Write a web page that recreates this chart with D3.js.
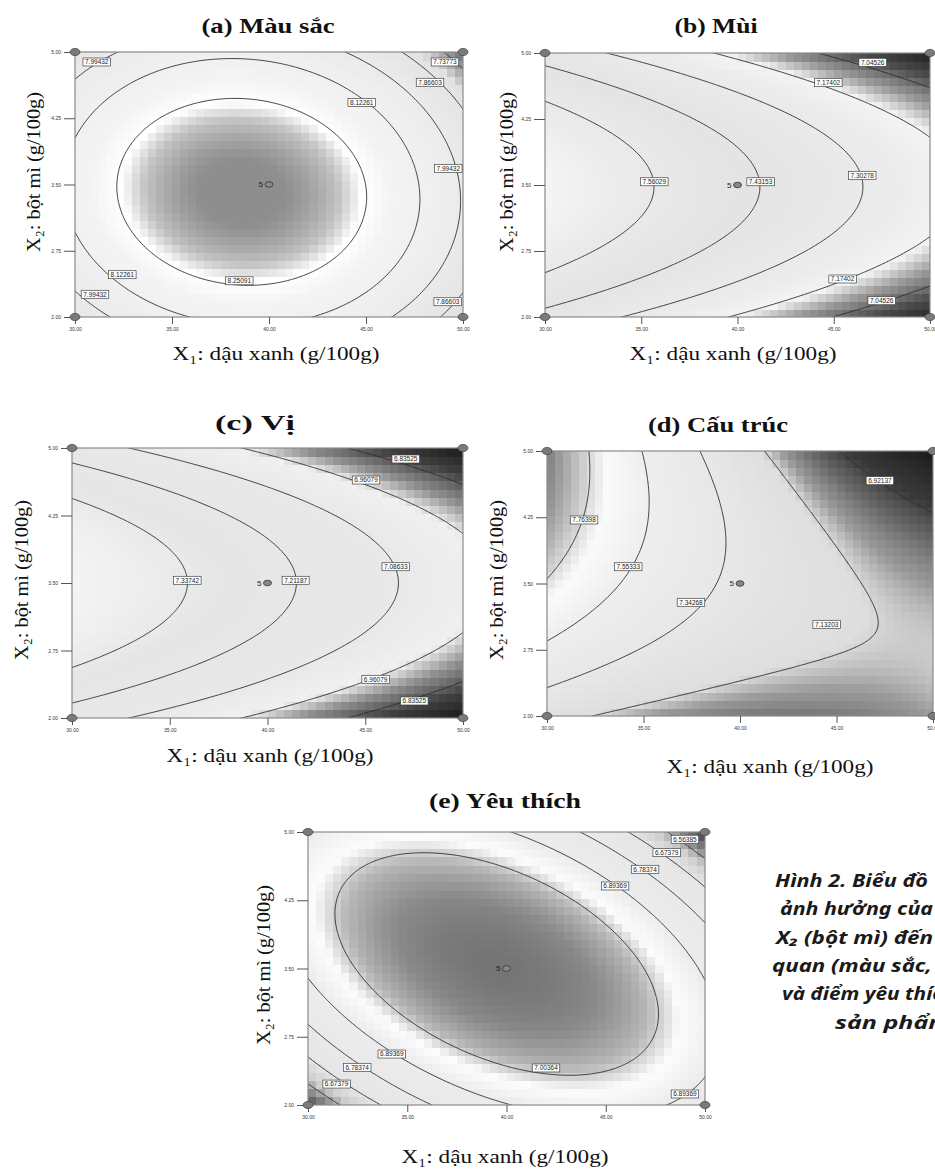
<!DOCTYPE html>
<html>
<head>
<meta charset="utf-8">
<script src="https://cdn.jsdelivr.net/npm/d3@7"></script>
<style>
  body { margin: 0; background: #fff; }
  svg { display: block; }
  .tick text { font-family: "Liberation Sans Narrow", "Liberation Sans", sans-serif; font-size: 5px; fill: #333; }
  .tick line { stroke: #555; }
  .ttl { font-family: "Liberation Serif", serif; font-weight: bold; font-size: 22px; fill: #111; }
  .lab { font-family: "Liberation Serif", serif; font-size: 19px; fill: #111; }
  .clab { font-family: "Liberation Sans Narrow", "Liberation Sans", sans-serif; font-size: 6.5px; fill: #222; }
  .cap { font-family: "Noto Sans", "Open Sans", sans-serif; font-weight: bold; font-style: italic; font-size: 17px; fill: #1a1a1a; }
</style>
</head>
<body>
<script>
// axis ticks (same for all five plots)
var x1Ticks = [30, 35, 40, 45, 50];
var x2Ticks = [2.00, 2.75, 3.50, 4.25, 5.00];
var centerPoint = [40, 3.5, "5"];

var titles = ["(a) Màu sắc", "(b) Mùi", "(c) Vị", "(d) Cấu trúc", "(e) Yêu thích"];
var xTitle = "X₁: dậu xanh (g/100g)";
var yTitle = "X₂: bột mì (g/100g)";

// fitted response surface, coded units: b0, A, B, AB, A², B²
var coefA = [8.368, -0.086, -0.032, -0.03, -0.30, -0.25];
var coefB = [7.459, -0.236, -0.009, 0, -0.006, -0.305];
var coefC = [7.246, -0.229, 0, 0, -0.014, -0.315];
var coefD = [7.30, -0.338, 0.093, -0.282, 0.113, -0.184];
var coefE = [7.126, -0.016, 0.005, -0.209, -0.232, -0.232];

// contour levels
var levelsA = [7.73773, 7.86603, 7.99432, 8.12261, 8.25091];
var levelsB = [7.04526, 7.17402, 7.30278, 7.43153, 7.56029];
var levelsC = [6.83525, 6.96079, 7.08633, 7.21187, 7.33742];
var levelsD = [6.92137, 7.13203, 7.34268, 7.55333, 7.76398];
var levelsE = [6.56385, 6.67379, 6.78374, 6.89369, 7.00364];

// contour labels: x1, x2, level
var labelsA = [[31.12, 4.887, "7.99432"], [49.07, 4.887, "7.73773"], [48.3, 4.657, "7.86603"],
  [44.78, 4.43, "8.12261"], [49.24, 3.683, "7.99432"], [38.47, 2.41, "8.25091"],
  [32.44, 2.479, "8.12261"], [31.03, 2.257, "7.99432"], [49.21, 2.173, "7.86603"]];
var labelsB = [[47.02, 4.894, "7.04526"], [44.72, 4.663, "7.17402"], [35.68, 3.537, "7.56029"],
  [41.2, 3.537, "7.43153"], [46.48, 3.61, "7.30278"], [45.46, 2.432, "7.17402"], [47.49, 2.185, "7.04526"]];
var labelsC = [[47.07, 4.878, "6.83525"], [45.04, 4.644, "6.96079"], [35.9, 3.53, "7.33742"],
  [41.44, 3.53, "7.21187"], [46.56, 3.681, "7.08633"], [45.53, 2.43, "6.96079"], [47.51, 2.189, "6.83525"]];
var labelsD = [[47.25, 4.664, "6.92137"], [31.92, 4.219, "7.76398"], [34.21, 3.69, "7.55333"],
  [37.46, 3.287, "7.34268"], [44.49, 3.038, "7.13203"]];
var labelsE = [[48.99, 4.92, "6.56385"], [48.07, 4.773, "6.67379"], [46.98, 4.59, "6.78374"],
  [45.47, 4.407, "6.89369"], [34.22, 2.56, "6.89369"], [32.48, 2.414, "6.78374"],
  [31.44, 2.23, "6.67379"], [41.99, 2.407, "7.00364"], [48.99, 2.121, "6.89369"]];

// caption lines as far as the page shows them
var caption = ["Hình 2. Biểu đồ", "ảnh hưởng của", "X₂ (bột mì) đến", "quan (màu sắc,",
  "và điểm yêu thích", "sản phẩm"];

// grey ramps (stylistic, per plot)
var shades = [
  {d: [7.65, 7.74, 7.82, 8.0, 8.2, 8.26, 8.3, 8.36], r: ["#5a5a5a", "#9a9a9a", "#e2e2e2", "#ebebeb", "#f4f4f4", "#ffffff", "#c4c4c4", "#8e8e8e"]},
  {d: [6.9, 7.0, 7.1, 7.17, 7.25, 7.45, 7.6, 7.7], r: ["#1e1e1e", "#4a4a4a", "#9a9a9a", "#f4f4f4", "#ececec", "#e4e4e4", "#ebebeb", "#f6f6f6"]},
  {d: [6.69, 6.8, 6.9, 6.97, 7.1, 7.3, 7.46], r: ["#1a1a1a", "#404040", "#909090", "#f0f0f0", "#e8e8e8", "#e6e6e6", "#f4f4f4"]},
  {d: [6.70, 6.9, 7.0, 7.08, 7.14, 7.3, 7.55, 7.70, 7.80, 7.95], r: ["#1a1a1a", "#3a3a3a", "#6a6a6a", "#9a9a9a", "#dedede", "#e6e6e6", "#eeeeee", "#fafafa", "#c8c8c8", "#7a7a7a"]},
  {d: [6.44, 6.52, 6.6, 6.68, 6.9, 6.97, 7.02, 7.08, 7.13], r: ["#3a3a3a", "#7a7a7a", "#cfcfcf", "#e6e6e6", "#ececec", "#fcfcfc", "#b8b8b8", "#8a8a8a", "#737373"]}
];

var boxes = [
  {x0: 75, x1: 463, y0: 52, y1: 317, t: [268, 33, 133], xl: [276, 360], yl: [40, 172]},
  {x0: 545, x1: 930, y0: 53, y1: 317, t: [716, 33, 83], xl: [733, 360], yl: [513, 172]},
  {x0: 72, x1: 463, y0: 448, y1: 718, t: [255, 430, 80], xl: [270, 762], yl: [28, 580]},
  {x0: 547, x1: 933, y0: 451, y1: 716, t: [718, 432, 140], xl: [770, 773], yl: [503, 580]},
  {x0: 308, x1: 705, y0: 832, y1: 1105, t: [505, 808, 152], xl: [505, 1163], yl: [270, 965]}
];

var coefs = [coefA, coefB, coefC, coefD, coefE];
var levels = [levelsA, levelsB, levelsC, levelsD, levelsE];
var labels = [labelsA, labelsB, labelsC, labelsD, labelsE];

function rsm(c, v1, v2) {
  var A = (v1 - 40) / 10, B = (v2 - 3.5) / 1.5;
  return c[0] + c[1] * A + c[2] * B + c[3] * A * B + c[4] * A * A + c[5] * B * B;
}

var svg = d3.select("body").append("svg").attr("width", 935).attr("height", 1176);

boxes.forEach(function(L, p) {
  var g = svg.append("g");
  var x = d3.scaleLinear().domain([30, 50]).range([L.x0, L.x1]);
  var y = d3.scaleLinear().domain([2, 5]).range([L.y1, L.y0]);
  var grey = d3.scaleLinear().domain(shades[p].d).range(shades[p].r).clamp(true);

  g.append("clipPath").attr("id", "clip" + p)
    .append("rect").attr("x", L.x0).attr("y", L.y0).attr("width", L.x1 - L.x0).attr("height", L.y1 - L.y0);

  // blocky shading
  var nx = 48, ny = 33, sx = 20 / nx, sy = 3 / ny;
  var cells = d3.range(nx * ny).map(function(k) { return [k % nx, Math.floor(k / nx)]; });
  g.append("g").attr("clip-path", "url(#clip" + p + ")")
    .selectAll("rect").data(cells).enter().append("rect")
    .attr("x", function(d) { return x(30 + d[0] * sx); })
    .attr("y", function(d) { return y(2 + (d[1] + 1) * sy); })
    .attr("width", x(30 + sx) - x(30) + 0.6)
    .attr("height", y(2) - y(2 + sy) + 0.6)
    .attr("shape-rendering", "crispEdges")
    .attr("fill", function(d) { return grey(rsm(coefs[p], 30 + (d[0] + 0.5) * sx, 2 + (d[1] + 0.5) * sy)); });

  // contour lines
  var n = 220, m = 160, gx0 = 29, gx1 = 51, gy0 = 1.8, gy1 = 5.2;
  var dxs = (gx1 - gx0) / n, dys = (gy1 - gy0) / m;
  var vals = new Array(n * m);
  for (var j = 0; j < m; j++) for (var i = 0; i < n; i++)
    vals[j * n + i] = rsm(coefs[p], gx0 + (i + 0.5) * dxs, gy0 + (j + 0.5) * dys);
  var cont = d3.contours().size([n, m]).thresholds(levels[p])(vals);
  var path = d3.geoPath(d3.geoTransform({point: function(px, py) {
    this.stream.point(x(gx0 + px * dxs), y(gy0 + py * dys));
  }}));
  g.append("g").attr("clip-path", "url(#clip" + p + ")")
    .selectAll("path").data(cont).enter().append("path")
    .attr("d", path).attr("fill", "none").attr("stroke", "#2e2e2e").attr("stroke-width", 0.9);

  // frame
  g.append("rect").attr("x", L.x0).attr("y", L.y0).attr("width", L.x1 - L.x0).attr("height", L.y1 - L.y0)
    .attr("fill", "none").attr("stroke", "#8a8a8a").attr("stroke-width", 1.2);

  // axes
  var ax = g.append("g").attr("transform", "translate(0," + L.y1 + ")")
    .call(d3.axisBottom(x).tickValues(x1Ticks).tickFormat(d3.format(".2f")).tickSize(7).tickPadding(3));
  var ay = g.append("g").attr("transform", "translate(" + L.x0 + ",0)")
    .call(d3.axisLeft(y).tickValues(x2Ticks).tickFormat(d3.format(".2f")).tickSize(11).tickPadding(3));
  ax.select(".domain").remove();
  ay.select(".domain").remove();

  // contour labels
  labels[p].forEach(function(l) {
    var lg = g.append("g").attr("transform", "translate(" + x(l[0]) + "," + y(l[1]) + ")");
    var r = lg.append("rect");
    var t = lg.append("text").attr("class", "clab").attr("text-anchor", "middle").attr("dy", "0.35em").text(l[2]);
    var w = t.node().getComputedTextLength() + 4;
    r.attr("x", -w / 2).attr("y", -4).attr("width", w).attr("height", 8)
      .attr("fill", "#fff").attr("stroke", "#444").attr("stroke-width", 0.7);
  });

  // corner design points
  var corners = [[30, 2], [30, 5], [50, 2], [50, 5]];
  g.selectAll("ellipse.cn").data(corners).enter().append("ellipse")
    .attr("cx", function(d) { return x(d[0]); }).attr("cy", function(d) { return y(d[1]); })
    .attr("rx", 5).attr("ry", 3.6).attr("fill", "#7a7a7a").attr("stroke", "#4a4a4a").attr("stroke-width", 0.8);

  // centre point
  g.append("ellipse").attr("cx", x(centerPoint[0])).attr("cy", y(centerPoint[1]))
    .attr("rx", 4).attr("ry", 2.8).attr("fill", "#888").attr("stroke", "#333").attr("stroke-width", 0.8);
  g.append("text").attr("x", x(centerPoint[0]) - 6).attr("y", y(centerPoint[1]) + 2.6)
    .attr("text-anchor", "end").attr("font-family", "Liberation Sans, sans-serif").attr("font-size", 8).attr("fill", "#222")
    .text(centerPoint[2]);

  // titles
  g.append("text").attr("class", "ttl").attr("x", L.t[0]).attr("y", L.t[1]).attr("text-anchor", "middle")
    .attr("textLength", L.t[2]).attr("lengthAdjust", "spacingAndGlyphs").text(titles[p]);
  g.append("text").attr("class", "lab").attr("x", L.xl[0]).attr("y", L.xl[1]).attr("text-anchor", "middle")
    .attr("textLength", 207).attr("lengthAdjust", "spacingAndGlyphs").text(xTitle);
  g.append("text").attr("class", "lab").attr("text-anchor", "middle")
    .attr("transform", "translate(" + L.yl[0] + "," + L.yl[1] + ") rotate(-90)")
    .attr("textLength", 160).attr("lengthAdjust", "spacingAndGlyphs").text(yTitle);
});

// figure caption, running off the page edge as in the source
var capX = [775, 780, 776, 772, 782, 835];
var capW = [153, 153, 157, 160, 173, 116];
svg.append("g").selectAll("text").data(caption).enter().append("text")
  .attr("class", "cap")
  .attr("x", function(d, i) { return capX[i]; })
  .attr("y", function(d, i) { return 887 + i * 28.3; })
  .attr("textLength", function(d, i) { return capW[i]; })
  .attr("lengthAdjust", "spacingAndGlyphs")
  .text(function(d) { return d; });
</script>
</body>
</html>
